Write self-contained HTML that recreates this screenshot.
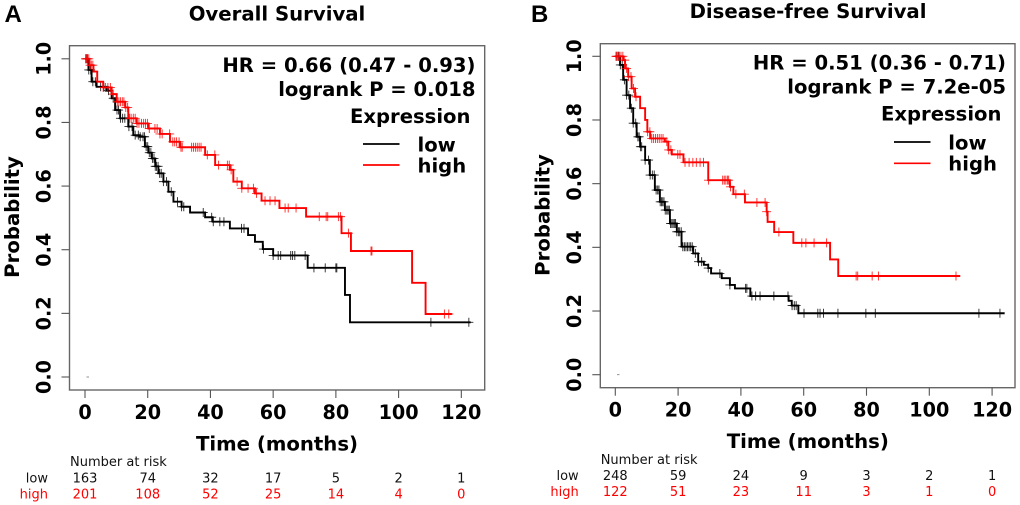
<!DOCTYPE html>
<html lang="en">
<head>
<meta charset="utf-8">
<title>Overall and Disease-free Survival Kaplan-Meier plots</title>
<style>
html,body{margin:0;padding:0;background:#fff;}
svg{display:block;filter:blur(0.3px);}
text{font-family:"DejaVu Sans","Liberation Sans",sans-serif;fill:#000;}
.b{font-weight:bold;}
.head{font-size:19.7px;font-weight:bold;}
.ann{font-size:19.6px;font-weight:bold;}
.risk{font-size:13px;fill:#111;}
.red{fill:#f00;}
.letter{font-family:"Liberation Sans",sans-serif;font-size:24px;font-weight:bold;}
</style>
</head>
<body>
<svg id="figure" xmlns="http://www.w3.org/2000/svg" width="1020" height="505" viewBox="0 0 1020 505">
<rect x="0" y="0" width="1020" height="505" fill="#fff"/>

<g id="panel-a">
<text class="letter" x="4.5" y="22">A</text>
<text class="head" x="277" y="20.5" text-anchor="middle">Overall Survival</text>
<rect x="69.5" y="45.7" width="415.2" height="344.3" fill="none" stroke="#666" stroke-width="1.4"/>
<text class="head" transform="translate(19,217) rotate(-90)" text-anchor="middle">Probability</text>
<text class="head" x="277" y="450.5" text-anchor="middle">Time (months)</text>
<text class="ann" x="475.5" y="72" text-anchor="end">HR = 0.66 (0.47 - 0.93)</text>
<text class="ann" x="475.5" y="96" text-anchor="end">logrank P = 0.018</text>
<text class="ann" x="350" y="123">Expression</text>
<line x1="363" y1="144" x2="399.5" y2="144" stroke="#000" stroke-width="1.7"/>
<line x1="363" y1="165" x2="399.5" y2="165" stroke="#f00" stroke-width="1.7"/>
<text class="ann" x="417.5" y="151.5">low</text>
<text class="ann" x="417.5" y="172.5">high</text>
<rect x="86.5" y="376.6" width="2.5" height="0.8" fill="#777"/>
<text class="risk" x="70" y="466">Number at risk</text>
<text class="risk" x="48" y="482.3" text-anchor="end">low</text>
<text class="risk red" x="48" y="498.3" text-anchor="end">high</text>
</g>

<g id="panel-b">
<text class="letter" x="531" y="22">B</text>
<text class="head" x="808" y="18" text-anchor="middle">Disease-free Survival</text>
<rect x="600.3" y="43.7" width="414.7" height="344" fill="none" stroke="#666" stroke-width="1.4"/>
<text class="head" transform="translate(549.5,215) rotate(-90)" text-anchor="middle">Probability</text>
<text class="head" x="807.8" y="448" text-anchor="middle">Time (months)</text>
<text class="ann" x="1006" y="69.5" text-anchor="end">HR = 0.51 (0.36 - 0.71)</text>
<text class="ann" x="1006" y="93.5" text-anchor="end">logrank P = 7.2e-05</text>
<text class="ann" x="881" y="120.7">Expression</text>
<line x1="894" y1="142" x2="930.5" y2="142" stroke="#000" stroke-width="1.7"/>
<line x1="894" y1="163.3" x2="930.5" y2="163.3" stroke="#f00" stroke-width="1.7"/>
<text class="ann" x="948.3" y="149.3">low</text>
<text class="ann" x="948.3" y="170.3">high</text>
<rect x="617" y="374.3" width="2.5" height="0.8" fill="#777"/>
<text class="risk" x="600.7" y="464">Number at risk</text>
<text class="risk" x="578.7" y="480" text-anchor="end">low</text>
<text class="risk red" x="578.7" y="496" text-anchor="end">high</text>
</g>
</svg>

<script>
// Shared axis tick values
const xTickValues = [0, 20, 40, 60, 80, 100, 120];
const yTickValues = [0, 0.2, 0.4, 0.6, 0.8, 1];
const yTickLabels = ['0.0', '0.2', '0.4', '0.6', '0.8', '1.0'];

// Panel A: overall survival
const aLowTimes = [0, 1.1, 2.1, 3.7, 6.9, 8.5, 9.6, 11.2, 13.8, 15.4, 17.5, 19.1, 20.2, 21.3, 22.4, 23.4, 25, 26.6, 28.2, 30.8, 33.5, 38.3, 40.7, 46.2, 52, 54.2, 56.7, 60, 71, 82.9, 84.5, 123];
const aLowSurv = [1, 0.965, 0.928, 0.912, 0.9, 0.876, 0.839, 0.813, 0.787, 0.76, 0.755, 0.724, 0.705, 0.687, 0.662, 0.64, 0.614, 0.582, 0.551, 0.535, 0.517, 0.502, 0.488, 0.467, 0.446, 0.425, 0.402, 0.382, 0.343, 0.258, 0.172, 0.172];
const aLowCensor = [0.3, 0.7, 1.2, 1.8, 2.5, 3.3, 5, 6, 7.5, 9, 10.2, 10.7, 11.3, 12, 12.7, 14, 15, 16, 17, 17.6, 18.5, 19, 19.5, 20, 20.5, 21, 21.5, 22, 22.4, 22.8, 23.3, 23.8, 24.3, 25, 26, 27.5, 29.5, 30.8, 31.5, 37.7, 40.4, 40.9, 43, 44.3, 49.9, 50.7, 56.9, 60, 61.6, 62.4, 65.6, 66.2, 66.9, 70.2, 73, 76.6, 80, 80.3, 110.3, 122.4];
const aHighTimes = [0, 1.4, 2.7, 3.9, 5.8, 8.5, 10.1, 12.8, 13.8, 16.5, 20.2, 23.9, 27.1, 30.3, 38.3, 41.5, 46.2, 47.3, 50, 54.2, 56.3, 62, 70.5, 81.8, 84.8, 104.3, 108.6, 117];
const aHighSurv = [1, 0.98, 0.96, 0.928, 0.91, 0.889, 0.865, 0.847, 0.813, 0.797, 0.781, 0.764, 0.739, 0.722, 0.698, 0.666, 0.651, 0.614, 0.593, 0.577, 0.554, 0.531, 0.504, 0.452, 0.396, 0.296, 0.198, 0.198];
const aHighCensor = [0.2, 0.5, 0.8, 1.2, 1.6, 2, 2.5, 5.8, 6.5, 7.3, 8.1, 9, 10.3, 10.8, 11.3, 11.9, 12.4, 13, 13.6, 14.2, 14.7, 15.4, 16, 16.6, 17.2, 18, 18.7, 19.3, 19.9, 20.5, 22.3, 23, 23.9, 24.6, 27, 28, 28.6, 29.2, 30, 30.6, 31, 34, 34.6, 35.2, 35.8, 36.4, 37, 39, 41.4, 42.6, 45.4, 46, 46.6, 48.5, 50, 52, 53.7, 54.7, 57.4, 59, 60.6, 63.8, 64.8, 67.3, 74.7, 76.9, 77.4, 80.8, 81.5, 84, 91.2, 91.5, 114.6, 116];
const aRiskLow = [163, 74, 32, 17, 5, 2, 1];
const aRiskHigh = [201, 108, 52, 25, 14, 4, 0];

// Panel B: disease-free survival
const bLowTimes = [0, 1.5, 2.5, 3.6, 4.7, 5.7, 6.8, 7.9, 9.5, 11, 12.6, 14.2, 15.8, 17.4, 19.6, 21.1, 24.8, 26.4, 28.2, 29.6, 30.5, 33.9, 36.5, 38.1, 43, 55.2, 56.2, 58.3, 124];
const bLowSurv = [1, 0.973, 0.926, 0.878, 0.837, 0.79, 0.747, 0.716, 0.674, 0.627, 0.58, 0.543, 0.517, 0.475, 0.449, 0.402, 0.381, 0.355, 0.345, 0.335, 0.318, 0.303, 0.282, 0.271, 0.247, 0.232, 0.217, 0.193, 0.193];
const bLowCensor = [0.5, 1, 1.6, 2.2, 2.9, 3.6, 4.3, 5.1, 5.7, 6.5, 7.2, 7.6, 8, 8.4, 9.5, 10.6, 11.1, 11.8, 12.4, 13, 13.5, 13.9, 14.3, 14.7, 15.1, 15.5, 15.9, 16.4, 16.8, 17.2, 17.6, 18, 18.4, 18.8, 19.2, 19.6, 20.1, 20.5, 21, 21.5, 22, 22.5, 23, 23.5, 24, 24.5, 25.5, 26.5, 27.5, 29.6, 33.3, 36.5, 41.5, 41.9, 43.5, 44.7, 46.1, 50.5, 55, 56.3, 57, 57.6, 60.1, 64.5, 65.2, 66.3, 70.9, 79.8, 82.8, 115.8, 122.5];
const bHighTimes = [0, 2.5, 3.1, 4.1, 5.2, 6.3, 7.9, 9.5, 10.2, 11.1, 15.8, 16.9, 18, 21.7, 29.6, 36.5, 37.6, 41.3, 48.2, 48.5, 50.6, 56.7, 68.4, 71, 109.8];
const bHighSurv = [1, 0.988, 0.962, 0.936, 0.899, 0.873, 0.837, 0.8, 0.763, 0.742, 0.732, 0.706, 0.692, 0.667, 0.611, 0.59, 0.567, 0.541, 0.512, 0.48, 0.448, 0.414, 0.362, 0.31, 0.31];
const bHighCensor = [0.2, 0.5, 0.9, 1.3, 1.8, 2.4, 3, 3.6, 4.2, 5, 5.8, 6.6, 10.3, 11, 11.6, 12.2, 12.8, 13.4, 14, 14.6, 15.2, 16.4, 17, 17.7, 19.9, 20.6, 22.2, 23.5, 24.7, 25.8, 27, 28.1, 29.7, 34.2, 34.7, 35.2, 35.7, 36.1, 36.7, 38.4, 41.1, 45.1, 47.7, 48.2, 52.1, 59.4, 60.7, 63.3, 67.3, 76.7, 77.2, 81.8, 83.8, 108.5];
const bRiskLow = [248, 59, 24, 9, 3, 2, 1];
const bRiskHigh = [122, 51, 23, 11, 3, 1, 0];

const SVG_NS = 'http://www.w3.org/2000/svg';

function makeScale(at0, slope) {
  return function (v) { return at0 + v * slope; };
}

function survivalAt(times, surv, t) {
  let s = surv[0];
  for (let i = 0; i < times.length; i++) {
    if (times[i] <= t) { s = surv[i]; }
  }
  return s;
}

function stepPath(times, surv, sx, sy) {
  let d = 'M' + sx(times[0]).toFixed(2) + ' ' + sy(surv[0]).toFixed(2);
  for (let i = 1; i < times.length; i++) {
    d += 'H' + sx(times[i]).toFixed(2) + 'V' + sy(surv[i]).toFixed(2);
  }
  return d;
}

function drawAxes(group, sx, sy, axisX, axisY, xLabelY, yLabelX) {
  xTickValues.forEach(function (v) {
    const tick = document.createElementNS(SVG_NS, 'line');
    tick.setAttribute('x1', sx(v));
    tick.setAttribute('x2', sx(v));
    tick.setAttribute('y1', axisY);
    tick.setAttribute('y2', axisY + 8);
    tick.setAttribute('stroke', '#555');
    tick.setAttribute('stroke-width', '1.1');
    
    
    group.appendChild(tick);
    const label = document.createElementNS(SVG_NS, 'text');
    label.setAttribute('x', sx(v));
    label.setAttribute('y', xLabelY);
    label.setAttribute('text-anchor', 'middle');
    label.setAttribute('font-size', '19.2');
    label.setAttribute('font-weight', 'bold');
    label.textContent = String(v);
    
    
    group.appendChild(label);
  });
  yTickValues.forEach(function (v, i) {
    const tick = document.createElementNS(SVG_NS, 'line');
    tick.setAttribute('x1', axisX - 8);
    tick.setAttribute('x2', axisX);
    tick.setAttribute('y1', sy(v));
    tick.setAttribute('y2', sy(v));
    tick.setAttribute('stroke', '#555');
    tick.setAttribute('stroke-width', '1.1');
    
    
    group.appendChild(tick);
    const label = document.createElementNS(SVG_NS, 'text');
    label.setAttribute('transform', 'translate(' + yLabelX + ',' + sy(v) + ') rotate(-90)');
    label.setAttribute('text-anchor', 'middle');
    label.setAttribute('font-size', '19.2');
    label.setAttribute('font-weight', 'bold');
    label.textContent = yTickLabels[i];
    
    
    group.appendChild(label);
  });
}

function drawSeries(group, times, surv, censor, color, sx, sy, seriesName) {
  const line = document.createElementNS(SVG_NS, 'path');
  line.setAttribute('d', stepPath(times, surv, sx, sy));
  line.setAttribute('fill', 'none');
  line.setAttribute('stroke', color);
  line.setAttribute('stroke-width', '1.9');
  
  
  group.appendChild(line);
  censor.forEach(function (t) {
    const x = sx(t);
    const y = sy(survivalAt(times, surv, t));
    const mark = document.createElementNS(SVG_NS, 'path');
    mark.setAttribute('d', 'M' + (x - 4.5).toFixed(2) + ' ' + y.toFixed(2) + 'H' + (x + 4.5).toFixed(2) + 'M' + x.toFixed(2) + ' ' + (y - 4.5).toFixed(2) + 'V' + (y + 4.5).toFixed(2));
    mark.setAttribute('fill', 'none');
    mark.setAttribute('stroke', color);
    mark.setAttribute('stroke-width', '0.9');
    mark.setAttribute('stroke-opacity', '0.85');
    
    
    group.appendChild(mark);
  });
}

function drawRisk(group, counts, sx, y, cls, rowName) {
  counts.forEach(function (n, i) {
    const cell = document.createElementNS(SVG_NS, 'text');
    cell.setAttribute('class', cls);
    cell.setAttribute('x', sx(xTickValues[i]));
    cell.setAttribute('y', y);
    cell.setAttribute('text-anchor', 'middle');
    cell.textContent = String(n);
    
    
    group.appendChild(cell);
  });
}

const axA = makeScale(85, 3.136);
const ayA = makeScale(377, -318.2);
const groupA = document.getElementById('panel-a');
drawAxes(groupA, axA, ayA, 69.5, 390, 419, 50.5);
drawSeries(groupA, aLowTimes, aLowSurv, aLowCensor, '#000', axA, ayA, 'panel-a-low');
drawSeries(groupA, aHighTimes, aHighSurv, aHighCensor, '#f00', axA, ayA, 'panel-a-high');
drawRisk(groupA, aRiskLow, axA, 482.3, 'risk', 'panel-a-risk-count-low');
drawRisk(groupA, aRiskHigh, axA, 498.3, 'risk red', 'panel-a-risk-count-high');

const axB = makeScale(615.3, 3.14);
const ayB = makeScale(374.7, -318.4);
const groupB = document.getElementById('panel-b');
drawAxes(groupB, axB, ayB, 600.3, 387.7, 416.7, 581);
drawSeries(groupB, bLowTimes, bLowSurv, bLowCensor, '#000', axB, ayB, 'panel-b-low');
drawSeries(groupB, bHighTimes, bHighSurv, bHighCensor, '#f00', axB, ayB, 'panel-b-high');
drawRisk(groupB, bRiskLow, axB, 480, 'risk', 'panel-b-risk-count-low');
drawRisk(groupB, bRiskHigh, axB, 496, 'risk red', 'panel-b-risk-count-high');
</script>
</body>
</html>
